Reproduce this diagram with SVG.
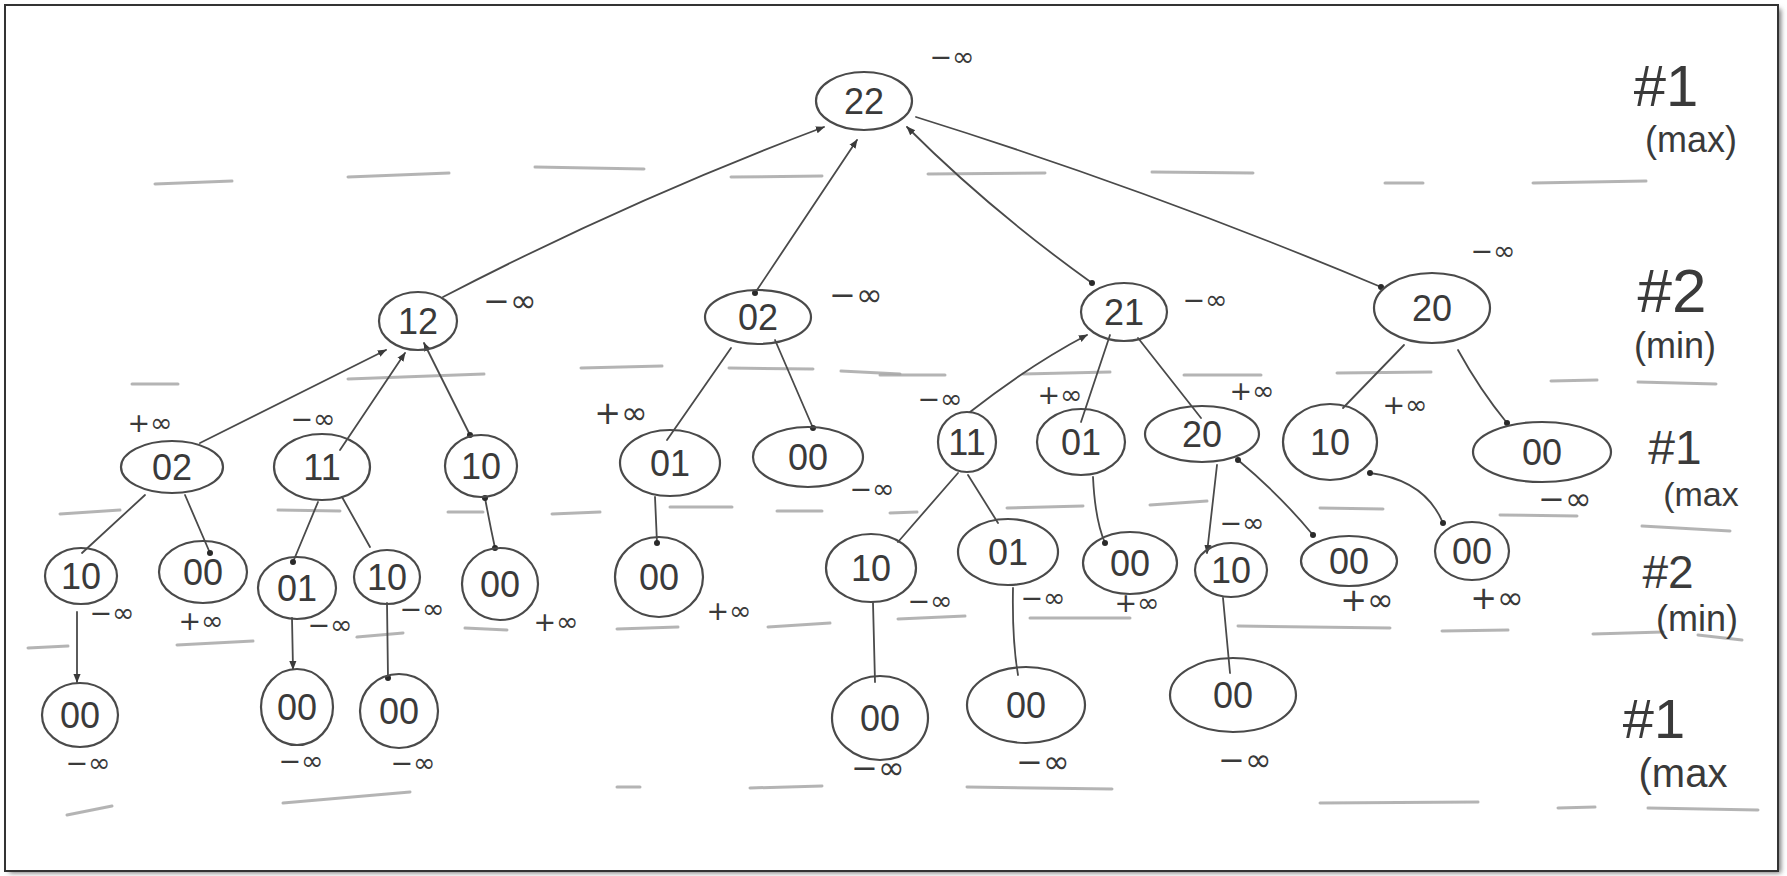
<svg xmlns="http://www.w3.org/2000/svg" width="1787" height="876" viewBox="0 0 1787 876">
  <style>
    .node ellipse { fill: none; stroke: #4a4a4a; stroke-width: 2.2; }
    .node text.k { font-family: "Liberation Sans", Arial, sans-serif; font-size: 36px; fill: #3a3a3a; text-anchor: middle; }
    .v { font-family: "DejaVu Sans", "Liberation Sans", sans-serif; fill: #3a3a3a; text-anchor: middle; }
    .v1 { font-size: 32px; }
    .v2 { font-size: 27px; }
    .edges path { fill: none; stroke: #4a4a4a; stroke-width: 1.8; stroke-linecap: round; }
    .rule line { stroke: #a8a8a8; stroke-width: 3; stroke-linecap: round; opacity: 0.85; }
    .hdr { font-family: "Liberation Sans", Arial, sans-serif; fill: #3a3a3a; text-anchor: middle; }
  </style>
  <defs>
    <marker id="arr" viewBox="0 0 10 10" refX="9" refY="5" markerWidth="9" markerHeight="9" markerUnits="userSpaceOnUse" orient="auto">
      <path d="M0,1 L10,5 L0,9 Z" fill="#3a3a3a"/>
    </marker>
    <marker id="dot" viewBox="0 0 10 10" refX="5" refY="5" markerWidth="6" markerHeight="6" markerUnits="userSpaceOnUse">
      <circle cx="5" cy="5" r="5" fill="#2a2a2a"/>
    </marker>
    <filter id="sh" x="-5%" y="-5%" width="110%" height="110%">
      <feGaussianBlur stdDeviation="2.5"/>
    </filter>
  </defs>

  <!-- page frame with drop shadow -->
  <rect x="0" y="0" width="1787" height="876" fill="#ffffff"/>
  <rect x="9" y="9" width="1772" height="864" fill="#777" filter="url(#sh)"/>
  <rect x="5" y="5" width="1773" height="866" fill="#ffffff" stroke="#333" stroke-width="2"/>

  <!-- faint ruled dashes between levels -->
  <g class="rule">
    <line x1="155" y1="184" x2="232" y2="181"/>
    <line x1="348" y1="177" x2="449" y2="173"/>
    <line x1="535" y1="167" x2="644" y2="169"/>
    <line x1="731" y1="177" x2="822" y2="176"/>
    <line x1="928" y1="174" x2="1045" y2="173"/>
    <line x1="1152" y1="172" x2="1253" y2="173"/>
    <line x1="1385" y1="183" x2="1423" y2="183"/>
    <line x1="1533" y1="183" x2="1646" y2="181"/>

    <line x1="132" y1="384" x2="178" y2="384"/>
    <line x1="348" y1="379" x2="484" y2="374"/>
    <line x1="581" y1="368" x2="662" y2="366"/>
    <line x1="729" y1="368" x2="813" y2="369"/>
    <line x1="841" y1="371" x2="900" y2="374"/>
    <line x1="880" y1="375" x2="945" y2="375"/>
    <line x1="1023" y1="374" x2="1110" y2="372"/>
    <line x1="1184" y1="375" x2="1261" y2="375"/>
    <line x1="1337" y1="373" x2="1431" y2="372"/>
    <line x1="1551" y1="381" x2="1597" y2="380"/>
    <line x1="1638" y1="382" x2="1716" y2="384"/>

    <line x1="60" y1="514" x2="120" y2="510"/>
    <line x1="278" y1="510" x2="340" y2="511"/>
    <line x1="448" y1="512" x2="483" y2="512"/>
    <line x1="552" y1="514" x2="600" y2="512"/>
    <line x1="670" y1="507" x2="732" y2="507"/>
    <line x1="777" y1="511" x2="822" y2="511"/>
    <line x1="890" y1="513" x2="917" y2="512"/>
    <line x1="1007" y1="508" x2="1083" y2="506"/>
    <line x1="1150" y1="505" x2="1207" y2="501"/>
    <line x1="1320" y1="508" x2="1383" y2="509"/>
    <line x1="1500" y1="515" x2="1577" y2="516"/>
    <line x1="1642" y1="526" x2="1730" y2="531"/>

    <line x1="28" y1="648" x2="68" y2="646"/>
    <line x1="177" y1="645" x2="253" y2="641"/>
    <line x1="357" y1="637" x2="403" y2="633"/>
    <line x1="465" y1="628" x2="507" y2="630"/>
    <line x1="617" y1="629" x2="678" y2="627"/>
    <line x1="768" y1="627" x2="830" y2="623"/>
    <line x1="898" y1="619" x2="965" y2="616"/>
    <line x1="1030" y1="618" x2="1130" y2="618"/>
    <line x1="1238" y1="626" x2="1390" y2="628"/>
    <line x1="1442" y1="631" x2="1508" y2="630"/>
    <line x1="1593" y1="634" x2="1663" y2="632"/>
    <line x1="1698" y1="635" x2="1742" y2="640"/>

    <line x1="67" y1="815" x2="112" y2="806"/>
    <line x1="283" y1="803" x2="410" y2="792"/>
    <line x1="617" y1="787" x2="640" y2="787"/>
    <line x1="750" y1="788" x2="822" y2="786"/>
    <line x1="967" y1="787" x2="1112" y2="789"/>
    <line x1="1320" y1="803" x2="1478" y2="802"/>
    <line x1="1558" y1="808" x2="1595" y2="807"/>
    <line x1="1648" y1="808" x2="1758" y2="810"/>
  </g>

  <!-- connectors -->
  <g class="edges">
    <path d="M443,297 Q630,200 824,127" marker-end="url(#arr)"/>
    <path d="M755,293 L857,140" marker-start="url(#dot)" marker-end="url(#arr)"/>
    <path d="M1092,283 Q990,210 907,127" marker-start="url(#dot)" marker-end="url(#arr)"/>
    <path d="M916,117 Q1150,190 1381,287" marker-end="url(#dot)"/>

    <path d="M200,443 L386,350" marker-end="url(#arr)"/>
    <path d="M340,450 L405,353" marker-end="url(#arr)"/>
    <path d="M470,435 L424,343" marker-start="url(#dot)" marker-end="url(#arr)"/>
    <path d="M731,348 L667,440"/>
    <path d="M775,340 L813,428" marker-end="url(#dot)"/>

    <path d="M970,412 Q1030,365 1087,335" marker-end="url(#arr)"/>
    <path d="M1110,335 L1081,422"/>
    <path d="M1138,338 L1201,418"/>
    <path d="M1404,345 L1343,408"/>
    <path d="M1458,350 Q1480,390 1507,423" marker-end="url(#dot)"/>

    <path d="M145,495 L82,553"/>
    <path d="M185,495 L210,553" marker-end="url(#dot)"/>
    <path d="M318,502 L293,562" marker-end="url(#dot)"/>
    <path d="M342,497 L370,547"/>
    <path d="M485,498 Q490,525 495,548" marker-start="url(#dot)" marker-end="url(#dot)"/>
    <path d="M655,497 L657,543" marker-end="url(#dot)"/>
    <path d="M958,473 L898,542"/>
    <path d="M968,475 L998,523"/>
    <path d="M1093,477 Q1095,520 1105,543" marker-end="url(#dot)"/>
    <path d="M1217,465 L1207,553" marker-end="url(#arr)"/>
    <path d="M1238,460 Q1280,495 1313,535" marker-start="url(#dot)" marker-end="url(#dot)"/>
    <path d="M1370,473 Q1425,480 1443,523" marker-start="url(#dot)" marker-end="url(#dot)"/>

    <path d="M77,612 L77,682" marker-end="url(#arr)"/>
    <path d="M292,618 L293,669" marker-end="url(#arr)"/>
    <path d="M387,603 L388,678" marker-end="url(#dot)"/>
    <path d="M873,603 L875,682"/>
    <path d="M1013,588 Q1012,640 1018,675"/>
    <path d="M1223,598 L1230,673"/>
  </g>

  <!-- level 0 -->
  <g id="n-root" class="node">
    <ellipse cx="864" cy="101" rx="48" ry="29"/>
    <text class="k" x="864" y="114">22</text>
    <text class="v v2" x="952" y="66">−∞</text>
  </g>

  <!-- level 1 -->
  <g id="n-12" class="node">
    <ellipse cx="418" cy="321" rx="39" ry="29"/>
    <text class="k" x="418" y="334">12</text>
    <text class="v v1" x="510" y="312">−∞</text>
  </g>
  <g id="n-02" class="node">
    <ellipse cx="758" cy="317" rx="53" ry="27"/>
    <text class="k" x="758" y="330">02</text>
    <text class="v v1" x="856" y="306">−∞</text>
  </g>
  <g id="n-21" class="node">
    <ellipse cx="1124" cy="312" rx="43" ry="29"/>
    <text class="k" x="1124" y="325">21</text>
    <text class="v v2" x="1205" y="309">−∞</text>
  </g>
  <g id="n-20" class="node">
    <ellipse cx="1432" cy="308" rx="58" ry="35"/>
    <text class="k" x="1432" y="321">20</text>
    <text class="v v2" x="1493" y="260">−∞</text>
  </g>

  <!-- level 2 -->
  <g id="n-12-02" class="node">
    <ellipse cx="172" cy="467" rx="51" ry="26"/>
    <text class="k" x="172" y="480">02</text>
    <text class="v v2" x="150" y="432">+∞</text>
  </g>
  <g id="n-12-11" class="node">
    <ellipse cx="322" cy="467" rx="48" ry="33"/>
    <text class="k" x="322" y="480">11</text>
    <text class="v v2" x="313" y="428">−∞</text>
  </g>
  <g id="n-12-10" class="node">
    <ellipse cx="481" cy="466" rx="36" ry="31"/>
    <text class="k" x="481" y="479">10</text>
  </g>
  <g id="n-02-01" class="node">
    <ellipse cx="670" cy="463" rx="50" ry="33"/>
    <text class="k" x="670" y="476">01</text>
    <text class="v v1" x="621" y="424">+∞</text>
  </g>
  <g id="n-02-00" class="node">
    <ellipse cx="808" cy="457" rx="55" ry="30"/>
    <text class="k" x="808" y="470">00</text>
    <text class="v v2" x="872" y="498">−∞</text>
  </g>
  <g id="n-21-11" class="node">
    <ellipse cx="967" cy="442" rx="29" ry="30"/>
    <text class="k" x="967" y="455">11</text>
    <text class="v v2" x="940" y="408">−∞</text>
  </g>
  <g id="n-21-01" class="node">
    <ellipse cx="1081" cy="442" rx="44" ry="33"/>
    <text class="k" x="1081" y="455">01</text>
    <text class="v v2" x="1060" y="404">+∞</text>
  </g>
  <g id="n-21-20" class="node">
    <ellipse cx="1202" cy="434" rx="57" ry="28"/>
    <text class="k" x="1202" y="447">20</text>
    <text class="v v2" x="1252" y="400">+∞</text>
  </g>
  <g id="n-20-10" class="node">
    <ellipse cx="1330" cy="442" rx="47" ry="38"/>
    <text class="k" x="1330" y="455">10</text>
    <text class="v v2" x="1405" y="414">+∞</text>
  </g>
  <g id="n-20-00" class="node">
    <ellipse cx="1542" cy="452" rx="69" ry="30"/>
    <text class="k" x="1542" y="465">00</text>
    <text class="v v1" x="1565" y="510">−∞</text>
  </g>

  <!-- level 3 -->
  <g id="n-l3-10a" class="node">
    <ellipse cx="81" cy="576" rx="36" ry="28"/>
    <text class="k" x="81" y="589">10</text>
    <text class="v v2" x="112" y="622">−∞</text>
  </g>
  <g id="n-l3-00b" class="node">
    <ellipse cx="203" cy="572" rx="44" ry="31"/>
    <text class="k" x="203" y="585">00</text>
    <text class="v v2" x="201" y="630">+∞</text>
  </g>
  <g id="n-l3-01c" class="node">
    <ellipse cx="297" cy="588" rx="39" ry="31"/>
    <text class="k" x="297" y="601">01</text>
    <text class="v v2" x="330" y="634">−∞</text>
  </g>
  <g id="n-l3-10d" class="node">
    <ellipse cx="387" cy="577" rx="33" ry="27"/>
    <text class="k" x="387" y="590">10</text>
    <text class="v v2" x="422" y="618">−∞</text>
  </g>
  <g id="n-l3-00e" class="node">
    <ellipse cx="500" cy="584" rx="38" ry="36"/>
    <text class="k" x="500" y="597">00</text>
    <text class="v v2" x="556" y="631">+∞</text>
  </g>
  <g id="n-l3-00f" class="node">
    <ellipse cx="659" cy="577" rx="44" ry="40"/>
    <text class="k" x="659" y="590">00</text>
    <text class="v v2" x="729" y="620">+∞</text>
  </g>
  <g id="n-l3-10g" class="node">
    <ellipse cx="871" cy="568" rx="45" ry="34"/>
    <text class="k" x="871" y="581">10</text>
    <text class="v v2" x="930" y="610">−∞</text>
  </g>
  <g id="n-l3-01h" class="node">
    <ellipse cx="1008" cy="552" rx="50" ry="33"/>
    <text class="k" x="1008" y="565">01</text>
    <text class="v v2" x="1043" y="607">−∞</text>
  </g>
  <g id="n-l3-00i" class="node">
    <ellipse cx="1130" cy="563" rx="47" ry="31"/>
    <text class="k" x="1130" y="576">00</text>
    <text class="v v2" x="1137" y="612">+∞</text>
  </g>
  <g id="n-l3-10j" class="node">
    <ellipse cx="1231" cy="570" rx="36" ry="27"/>
    <text class="k" x="1231" y="583">10</text>
    <text class="v v2" x="1242" y="532">−∞</text>
  </g>
  <g id="n-l3-00k" class="node">
    <ellipse cx="1349" cy="561" rx="48" ry="25"/>
    <text class="k" x="1349" y="574">00</text>
    <text class="v v1" x="1367" y="611">+∞</text>
  </g>
  <g id="n-l3-00l" class="node">
    <ellipse cx="1472" cy="551" rx="37" ry="29"/>
    <text class="k" x="1472" y="564">00</text>
    <text class="v v1" x="1497" y="609">+∞</text>
  </g>

  <!-- level 4 -->
  <g id="n-l4-a" class="node">
    <ellipse cx="80" cy="715" rx="38" ry="32"/>
    <text class="k" x="80" y="728">00</text>
    <text class="v v2" x="88" y="772">−∞</text>
  </g>
  <g id="n-l4-c" class="node">
    <ellipse cx="297" cy="707" rx="36" ry="38"/>
    <text class="k" x="297" y="720">00</text>
    <text class="v v2" x="301" y="770">−∞</text>
  </g>
  <g id="n-l4-d" class="node">
    <ellipse cx="399" cy="711" rx="39" ry="37"/>
    <text class="k" x="399" y="724">00</text>
    <text class="v v2" x="413" y="772">−∞</text>
  </g>
  <g id="n-l4-g" class="node">
    <ellipse cx="880" cy="718" rx="48" ry="42"/>
    <text class="k" x="880" y="731">00</text>
    <text class="v v1" x="878" y="779">−∞</text>
  </g>
  <g id="n-l4-h" class="node">
    <ellipse cx="1026" cy="705" rx="59" ry="38"/>
    <text class="k" x="1026" y="718">00</text>
    <text class="v v1" x="1043" y="773">−∞</text>
  </g>
  <g id="n-l4-j" class="node">
    <ellipse cx="1233" cy="695" rx="63" ry="37"/>
    <text class="k" x="1233" y="708">00</text>
    <text class="v v1" x="1245" y="771">−∞</text>
  </g>

  <!-- player / level legend -->
  <g id="legend">
    <text class="hdr" x="1666" y="106" font-size="58">#1</text>
    <text class="hdr" x="1691" y="152" font-size="36">(max)</text>
    <text class="hdr" x="1672" y="312" font-size="62">#2</text>
    <text class="hdr" x="1675" y="358" font-size="36">(min)</text>
    <text class="hdr" x="1675" y="464" font-size="48">#1</text>
    <text class="hdr" x="1701" y="506" font-size="34">(max</text>
    <text class="hdr" x="1668" y="588" font-size="46">#2</text>
    <text class="hdr" x="1697" y="631" font-size="36">(min)</text>
    <text class="hdr" x="1654" y="738" font-size="56">#1</text>
    <text class="hdr" x="1683" y="787" font-size="40">(max</text>
  </g>
</svg>
